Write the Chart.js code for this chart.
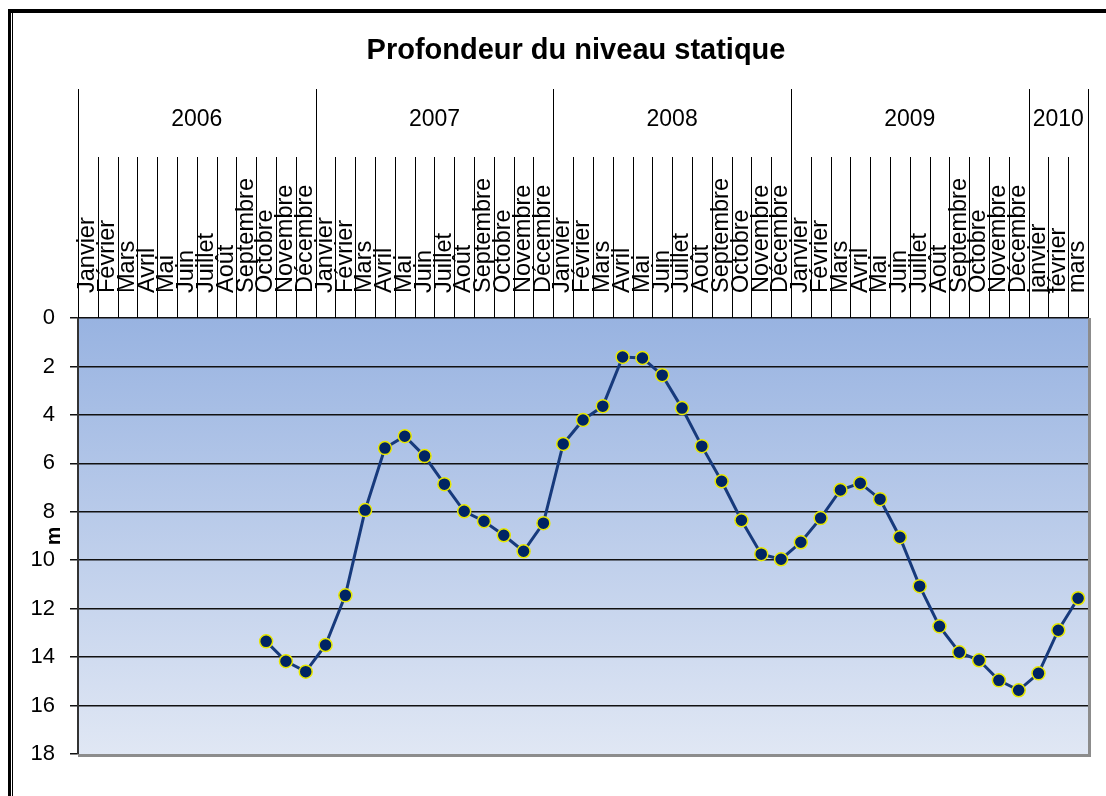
<!DOCTYPE html>
<html lang="fr">
<head>
<meta charset="utf-8">
<title>Profondeur du niveau statique</title>
<script src="https://cdn.jsdelivr.net/npm/chart.js@4/dist/chart.umd.min.js"></script>
<style>
    html, body { margin: 0; padding: 0; background: #fff; overflow: hidden; }
    #cadre { position: relative; width: 1106px; height: 796px; }
    #graphique { position: absolute; left: 0; top: 0; }
    .bord-ext { position: absolute; left: 8px; top: 9px; right: 0; bottom: 0; border-top: 4px solid #000; border-left: 3px solid #000; pointer-events: none; }
    .bord-int { position: absolute; left: 12px; top: 13px; width: 1px; bottom: 0; background: #000; pointer-events: none; }
</style>
</head>
<body>
<div id="cadre">
    <canvas id="graphique" width="1106" height="796"></canvas>
    <div class="bord-ext"></div>
    <div class="bord-int"></div>
</div>
<script>
// Années et nombre de mois affichés pour chacune
const annees = ['2006', '2007', '2008', '2009', '2010'];
const moisParAnnee = [12, 12, 12, 12, 3];

const moisAnnee = ['Janvier', 'Février', 'Mars', 'Avril', 'Mai', 'Juin', 'Juillet', 'Août',
    'Septembre', 'Octobre', 'Novembre', 'Décembre'];
const mois2010 = ['janvier', 'février', 'mars'];

const moisLabels = [...moisAnnee, ...moisAnnee, ...moisAnnee, ...moisAnnee, ...mois2010];

// Profondeur (m) - pas de mesure avant octobre 2006
const profondeurs = [
    null, null, null, null, null, null, null, null, null, 13.35, 14.17, 14.6,
    13.5, 11.45, 7.93, 5.37, 4.88, 5.7, 6.86, 7.98, 8.39, 8.97, 9.63, 8.47,
    5.2, 4.21, 3.64, 1.61, 1.65, 2.36, 3.72, 5.29, 6.74, 8.35, 9.75, 9.96,
    9.26, 8.26, 7.1, 6.82, 7.48, 9.05, 11.07, 12.73, 13.8, 14.13, 14.96, 15.37,
    14.67, 12.89, 11.57
];

const POLICE = '"Liberation Sans", Arial, sans-serif';
Chart.defaults.font.family = POLICE;
Chart.defaults.color = '#000';

// Fond dégradé + en-tête (séparateurs de mois, années)
const pluginEnTete = {
    id: 'enTete',
    afterLayout(chart) {
        // titre centré un peu à droite, comme dans Excel
        if (chart.titleBlock) chart.titleBlock.left = 64;
    },
    beforeDraw(chart) {
        const { ctx, chartArea } = chart;
        const grad = ctx.createLinearGradient(0, chartArea.top, 0, chartArea.bottom);
        grad.addColorStop(0, '#98b3e1');
        grad.addColorStop(1, '#e0e7f4');
        ctx.save();
        ctx.fillStyle = grad;
        ctx.fillRect(chartArea.left, chartArea.top, chartArea.right - chartArea.left, chartArea.bottom - chartArea.top);
        ctx.restore();
    },
    afterDraw(chart) {
        const { ctx, chartArea } = chart;
        const x = chart.scales.x;
        ctx.save();

        // bordure grise droite / bas
        ctx.strokeStyle = '#8c8c8c';
        ctx.lineWidth = 3;
        ctx.beginPath();
        ctx.moveTo(chartArea.right + 1.5, chartArea.top);
        ctx.lineTo(chartArea.right + 1.5, chartArea.bottom + 3);
        ctx.moveTo(chartArea.left, chartArea.bottom + 1.5);
        ctx.lineTo(chartArea.right + 3, chartArea.bottom + 1.5);
        ctx.stroke();

        // séparateurs de mois
        ctx.strokeStyle = '#000';
        ctx.lineWidth = 1;
        ctx.beginPath();
        for (let i = 1; i <= moisLabels.length; i++) {
            const px = Math.round(x.getPixelForValue(i - 0.5)) + 0.5;
            ctx.moveTo(px, 157);
            ctx.lineTo(px, chartArea.top);
        }
        ctx.stroke();

        // séparateurs et libellés des années
        ctx.font = '23px ' + POLICE;
        ctx.fillStyle = '#000';
        ctx.textAlign = 'center';
        ctx.textBaseline = 'middle';
        let debut = 0;
        ctx.beginPath();
        annees.forEach((annee, k) => {
            const fin = debut + moisParAnnee[k];
            const x0 = x.getPixelForValue(debut - 0.5);
            const x1 = x.getPixelForValue(fin - 0.5);
            const px0 = Math.round(x0) + 0.5;
            const px1 = Math.round(x1) + 0.5;
            ctx.moveTo(px0, 89);
            ctx.lineTo(px0, chartArea.top);
            ctx.moveTo(px1, 89);
            ctx.lineTo(px1, chartArea.top);
            ctx.fillText(annee, (x0 + x1) / 2, 120);
            debut = fin;
        });
        ctx.stroke();
        ctx.restore();
    }
};

const ctx = document.getElementById('graphique');
new Chart(ctx, {
    type: 'line',
    data: {
        labels: moisLabels,
        datasets: [{
            label: 'Profondeur',
            data: profondeurs,
            borderColor: '#173a7c',
            borderWidth: 3,
            tension: 0,
            spanGaps: false,
            pointRadius: 6.5,
            pointBorderWidth: 1.5,
            pointBackgroundColor: '#002463',
            pointBorderColor: '#e8e800'
        }]
    },
    options: {
        responsive: false,
        animation: false,
        layout: {
            padding: { left: 0, right: 18, top: 0, bottom: 42 }
        },
        plugins: {
            legend: { display: false },
            tooltip: { enabled: false },
            title: {
                display: true,
                text: 'Profondeur du niveau statique',
                color: '#000',
                font: { size: 29, weight: 'bold' },
                padding: { top: 34, bottom: 6 }
            }
        },
        scales: {
            x: {
                position: 'top',
                offset: true,
                afterFit: (scale) => { scale.height = 243.2; },
                grid: { display: false, drawTicks: false },
                border: { display: false },
                ticks: {
                    autoSkip: false,
                    minRotation: 90,
                    maxRotation: 90,
                    padding: 25,
                    labelOffset: 28,
                    color: '#000',
                    font: { size: 23.5 }
                }
            },
            y: {
                reverse: true,
                min: 0,
                max: 18,
                afterFit: (scale) => { scale.width = 78; },
                border: { display: true, color: '#333', width: 2 },
                grid: {
                    color: (c) => c.tick && c.tick.value === 18 ? 'rgba(0,0,0,0)' : '#111',
                    lineWidth: 1.5,
                    tickLength: 8,
                    tickColor: '#111'
                },
                ticks: {
                    stepSize: 2,
                    padding: 15,
                    color: '#000',
                    font: { size: 22 }
                },
                title: {
                    display: true,
                    text: 'm',
                    color: '#000',
                    font: { size: 21, weight: 'bold' },
                    padding: { top: 42, bottom: 0 }
                }
            }
        }
    },
    plugins: [pluginEnTete]
});
</script>
</body>
</html>
